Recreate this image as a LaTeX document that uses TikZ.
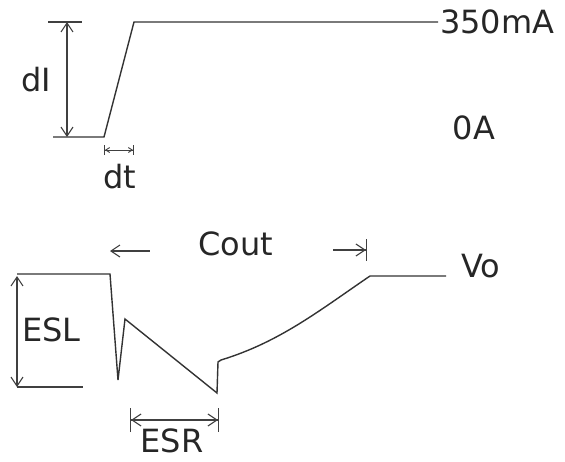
\documentclass[tikz,border=0pt]{standalone}
\usepackage{fontspec}
\setmainfont{DejaVu Sans}
\usetikzlibrary{arrows.meta}
\begin{document}
\begin{tikzpicture}[x=1pt,y=-1pt,
  wave/.style={draw=black!80, line width=1.4pt, line join=miter},
  dim/.style={draw=black!75, line width=1.1pt},
  barb/.tip={Straight Barb[length=9pt,width=12pt]},
  lbl/.style={font=\fontsize{32}{36}\selectfont, text=black!85, inner sep=0pt}]
\useasboundingbox (0,0) rectangle (565,461);
% top waveform
\coordinate (t0) at (53,137);
\coordinate (t1) at (104,137);
\coordinate (t2) at (134,22);
\coordinate (t3) at (438,22);
\draw[wave] (t0) -- (t1) -- (t2) -- (t3);
\coordinate (dItop1) at (48,22);
\coordinate (dItop2) at (82,22);
\draw[dim] (dItop1) -- (dItop2);
\coordinate (dIa) at (67,22);
\coordinate (dIb) at (67,137);
\draw[dim, barb-barb] (dIa) -- (dIb);
\node[lbl] (dI) at (36,80) {dI};
\node[lbl, anchor=west] (ma) at (440,22) {350mA};
\node[lbl] (zeroA) at (474,128) {0A};
% dt
\coordinate (dt1) at (104,150);
\coordinate (dt2) at (134,150);
\draw[dim, line width=0.9pt, {Bar[width=10pt]Straight Barb[length=4pt,width=5pt]}-{Straight Barb[length=4pt,width=5pt]Bar[width=10pt]}] (dt1) -- (dt2);
\node[lbl] (dt) at (120,177) {dt};
% bottom waveform
\coordinate (v0) at (17,274);
\coordinate (v1) at (110,274);
\coordinate (v2) at (118,380);
\coordinate (v3) at (125,319);
\coordinate (v4) at (217,393);
\coordinate (v5) at (218,362);
\coordinate (v6) at (221,360);
\coordinate (v7) at (370,276);
\coordinate (v8) at (446,276);
\draw[wave] (v0) -- (v1) -- (v2) -- (v3) -- (v4) -- (v5) -- (v6)
  .. controls (280,342) and (320,310) .. (v7) -- (v8);
\node[lbl, anchor=west] (vo) at (461,266) {Vo};
% ESL
\coordinate (esla) at (17,276);
\coordinate (eslb) at (17,387);
\coordinate (eslc) at (83,387);
\draw[dim] (eslb) -- (eslc);
\draw[dim, barb-barb] (esla) -- (eslb);
\node[lbl, anchor=west] (esl) at (22,330) {ESL};
% ESR
\coordinate (esr1) at (130,420);
\coordinate (esr2) at (219,420);
\draw[dim, {Bar[width=24pt]Straight Barb[length=9pt,width=12pt]}-{Straight Barb[length=9pt,width=12pt]Bar[width=24pt]}] (esr1) -- (esr2);
\node[lbl] (esr) at (172,441) {ESR};
% Cout
\coordinate (c1) at (110,251);
\coordinate (c2) at (150,251);
\coordinate (c3) at (333,250);
\coordinate (c4) at (367,250);
\draw[dim, barb-] (c1) -- (c2);
\draw[dim, -{Straight Barb[length=9pt,width=12pt]Bar[width=22pt]}] (c3) -- (c4);
\node[lbl] (cout) at (236,244) {Cout};
\end{tikzpicture}
\end{document}
